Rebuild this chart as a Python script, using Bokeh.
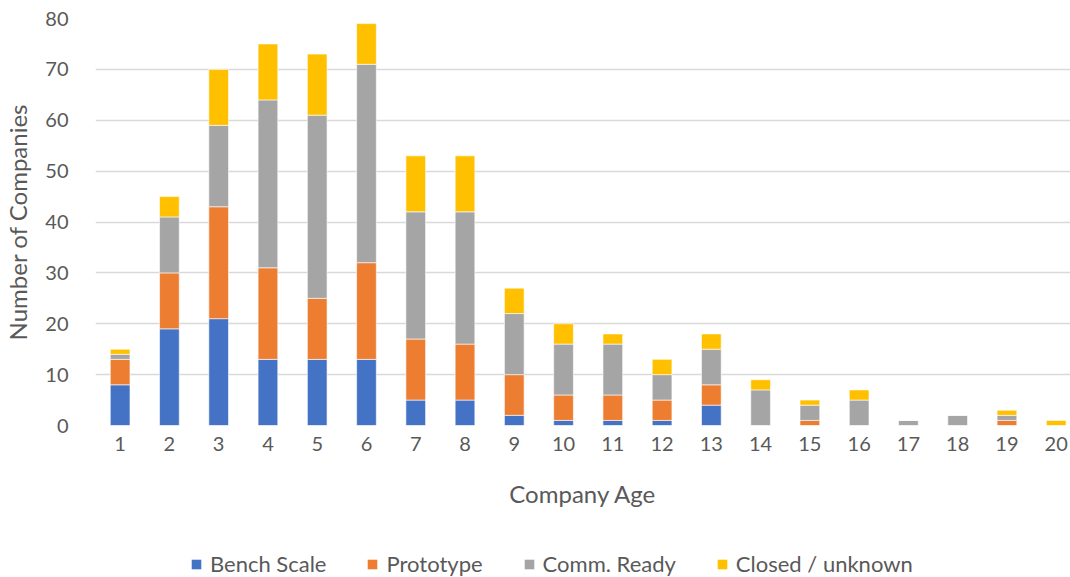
from bokeh.plotting import figure
from bokeh.layouts import column
from bokeh.models import Range1d, FixedTicker, Legend, LegendItem, ColumnDataSource
from bokeh.embed import file_html
from bokeh.resources import INLINE

# Companies by age, split by technology readiness stage
ages = list(range(1, 21))
bench_scale = [8, 19, 21, 13, 13, 13, 5, 5, 2, 1, 1, 1, 4, 0, 0, 0, 0, 0, 0, 0]
prototype = [5, 11, 22, 18, 12, 19, 12, 11, 8, 5, 5, 4, 4, 0, 1, 0, 0, 0, 1, 0]
comm_ready = [1, 11, 16, 33, 36, 39, 25, 26, 12, 10, 10, 5, 7, 7, 3, 5, 1, 2, 1, 0]
closed_unknown = [1, 4, 11, 11, 12, 8, 11, 11, 5, 4, 2, 3, 3, 2, 1, 2, 0, 0, 1, 1]

series_names = ["Bench Scale", "Prototype", "Comm. Ready", "Closed / unknown"]
series_keys = ["bench", "proto", "comm", "closed"]
colors = ["#4472C4", "#ED7D31", "#A5A5A5", "#FFC000"]

source = ColumnDataSource(dict(
    age=ages, bench=bench_scale, proto=prototype, comm=comm_ready, closed=closed_unknown,
))

FONT = "Lato"
TEXT = "#595959"

p = figure(
    width=1070, height=520,
    x_range=Range1d(0.5, 20.29), y_range=Range1d(0, 80),
    output_backend="svg", toolbar_location=None,
    min_border_left=88, min_border_right=0, min_border_top=18, min_border_bottom=95,
)
p.outline_line_color = None
p.background_fill_color = "white"
p.border_fill_color = "white"

renderers = p.vbar_stack(series_keys, x="age", width=0.4, source=source,
                         color=colors, line_color="white", line_width=0.6)

# axes
p.xaxis.ticker = FixedTicker(ticks=ages)
p.yaxis.ticker = FixedTicker(ticks=list(range(0, 81, 10)))
for ax in (p.xaxis[0], p.yaxis[0]):
    ax.axis_line_color = None
    ax.major_tick_line_color = None
    ax.minor_tick_line_color = None
    ax.major_label_text_font = FONT
    ax.major_label_text_font_size = "20px"
    ax.major_label_text_color = TEXT
    ax.axis_label_text_font = FONT
    ax.axis_label_text_font_size = "24px"
    ax.axis_label_text_font_style = "normal"
    ax.axis_label_text_color = TEXT

p.xaxis.axis_label = "Company Age"
p.yaxis.axis_label = "Number of Companies"
p.xaxis.major_label_standoff = 5
p.xaxis.axis_label_standoff = 25
p.yaxis.major_label_standoff = 21
p.yaxis.axis_label_standoff = 10

p.xgrid.grid_line_color = None
p.ygrid.grid_line_color = "#d9d9d9"
p.ygrid.grid_line_width = 1.5

# separate strip holding the series legend; its swatch renderers are hidden
leg = figure(
    width=1070, height=57,
    x_range=Range1d(0, 1), y_range=Range1d(0, 1),
    output_backend="svg", toolbar_location=None,
    min_border=0,
)
leg.axis.visible = False
leg.grid.visible = False
leg.outline_line_color = None
swatch_src = ColumnDataSource(dict(x=[0.5], top=[0.5]))
swatches = []
for c in colors:
    r = leg.vbar(x="x", top="top", width=0.1, fill_color=c, line_color=None, source=swatch_src)
    r.visible = False
    swatches.append(r)

legend = Legend(
    items=[LegendItem(label=n, renderers=[r]) for n, r in zip(series_names, swatches)],
    orientation="horizontal",
    location=(95, 0),
    click_policy="none",
    label_text_font=FONT, label_text_font_size="22px", label_text_color=TEXT,
    glyph_width=12, glyph_height=12, label_standoff=8, spacing=40,
    padding=0, margin=0, border_line_color=None, background_fill_alpha=0,
    label_height=20,
)
leg.add_layout(legend, "center")

open("out.html", "w").write(file_html(column(p, leg, spacing=0), INLINE))
